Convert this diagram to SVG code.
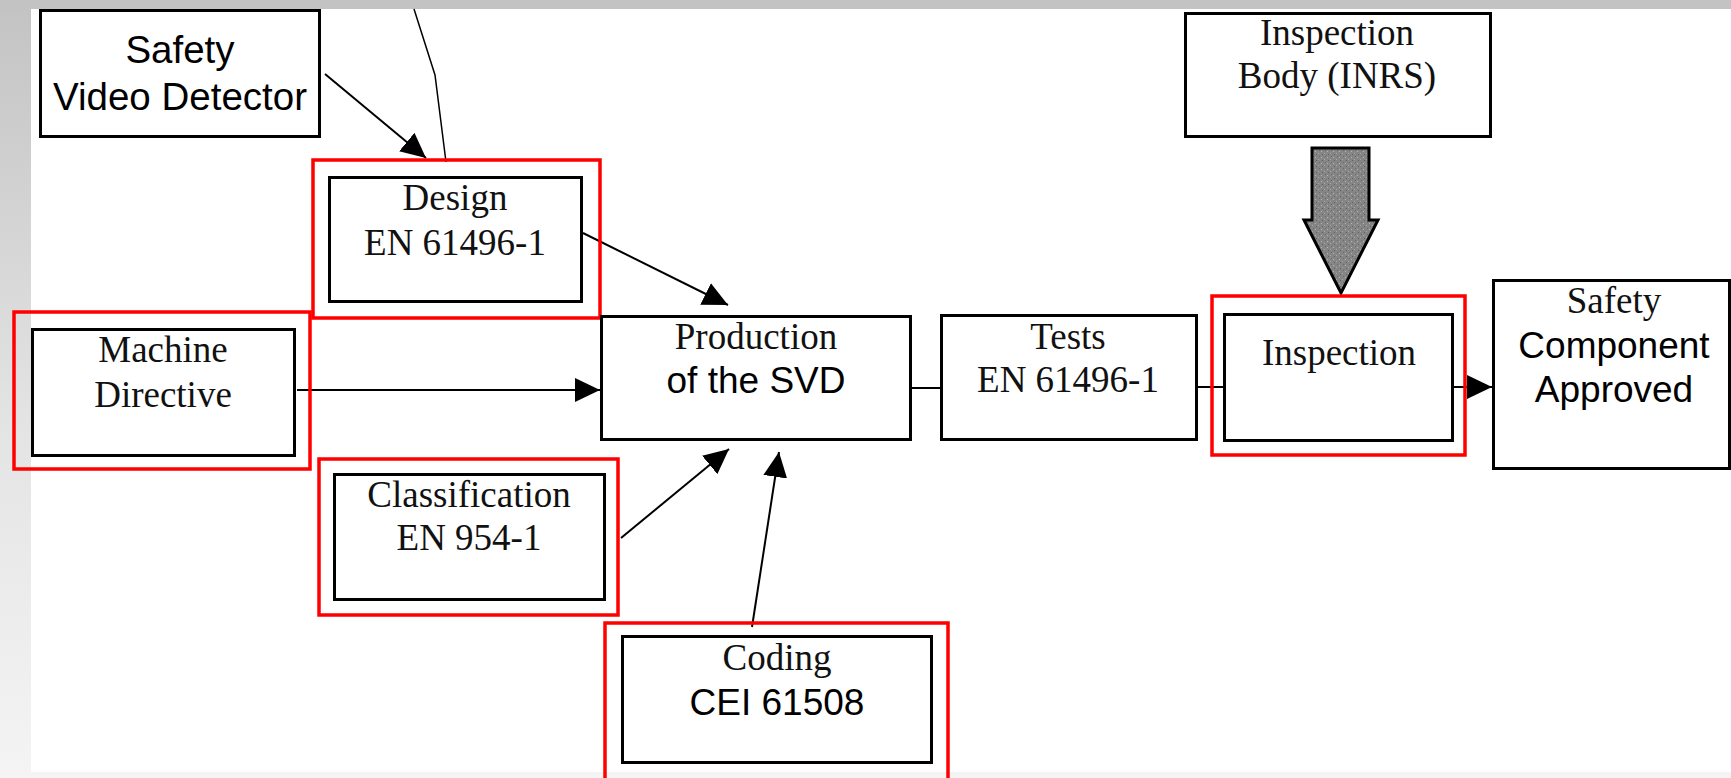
<svg xmlns="http://www.w3.org/2000/svg" width="1731" height="778" viewBox="0 0 1731 778">
  <defs>
    <linearGradient id="sideband" x1="0" y1="0" x2="0" y2="1">
      <stop offset="0" stop-color="#c3c3c3"/>
      <stop offset="0.55" stop-color="#e4e4e4"/>
      <stop offset="1" stop-color="#f4f4f4"/>
    </linearGradient>
    <!-- speckled grey fill for the block arrow -->
    <pattern id="stipple" patternUnits="userSpaceOnUse" width="6" height="6">
      <rect width="6" height="6" fill="#858585"/>
      <rect x="1" y="1" width="1" height="1" fill="#b5b5b5"/>
      <rect x="4" y="3" width="1" height="1" fill="#a8a8a8"/>
      <rect x="2" y="4" width="1" height="1" fill="#5e5e5e"/>
      <rect x="5" y="0" width="1" height="1" fill="#6a6a6a"/>
    </pattern>
    <marker id="head" markerUnits="userSpaceOnUse" markerWidth="26" markerHeight="26" refX="25" refY="12" orient="auto">
      <path d="M0,0 L25,12 L0,24 z" fill="#000"/>
    </marker>
    <style>
      .box { fill: #fff; stroke: #000; stroke-width: 3; }
      .hl { fill: none; stroke: #ff0000; stroke-width: 3.5; }
      .serif { font-family: "Liberation Serif", "Times New Roman", serif; font-size: 37px; fill: #111; text-anchor: middle; }
      .sans { font-family: "Liberation Sans", Arial, sans-serif; font-size: 37px; fill: #000; text-anchor: middle; }
      .big { font-size: 38.5px; }
      .link { fill: none; stroke: #000; stroke-width: 2; }
      .thin { fill: none; stroke: #000; stroke-width: 1.5; }
    </style>
  </defs>

  <!-- page background with grey frame bands -->
  <rect x="0" y="0" width="1731" height="778" fill="#fff"/>
  <rect x="0" y="772" width="1731" height="6" fill="#f4f4f4"/>
  <rect x="0" y="0" width="31" height="778" fill="url(#sideband)"/>
  <rect x="0" y="0" width="1731" height="9" fill="#c3c3c3"/>

  <!-- connectors -->
  <g id="connectors">
    <polyline class="thin" points="414,9 435,75 446,162"/>
    <line class="link" x1="325" y1="74" x2="426" y2="158" marker-end="url(#head)"/>
    <line class="link" x1="583" y1="233" x2="728" y2="305" marker-end="url(#head)"/>
    <line class="link" x1="297" y1="390" x2="600" y2="390" marker-end="url(#head)"/>
    <line class="link" x1="621" y1="538" x2="729" y2="449" marker-end="url(#head)"/>
    <line class="link" x1="752" y1="627" x2="779" y2="452" marker-end="url(#head)"/>
    <line class="link" x1="911" y1="388" x2="940" y2="388"/>
    <line class="link" x1="1197" y1="387" x2="1223" y2="387"/>
    <line class="link" x1="1453" y1="387" x2="1492" y2="387" marker-end="url(#head)"/>
    <polygon points="1312,148 1369,148 1369,220 1378,220 1341,293 1304,220 1312,220" fill="url(#stipple)" stroke="#000" stroke-width="3" stroke-linejoin="miter"/>
  </g>

  <g id="svd">
    <rect class="box" x="40.5" y="10.5" width="279" height="126"/>
    <text class="sans big" x="180" y="63">Safety</text>
    <text class="sans big" x="180" y="110">Video Detector</text>
  </g>

  <g id="design">
    <rect class="box" x="329.5" y="177.5" width="252" height="124"/>
    <text class="serif" x="455" y="210">Design</text>
    <text class="serif" x="455" y="255">EN 61496-1</text>
    <rect class="hl" x="313" y="160" width="287" height="158"/>
  </g>

  <g id="machine-directive">
    <rect class="box" x="32.5" y="329.5" width="262" height="126"/>
    <text class="serif" x="163" y="362">Machine</text>
    <text class="serif" x="163" y="407">Directive</text>
    <rect class="hl" x="14" y="312" width="296" height="157"/>
  </g>

  <g id="classification">
    <rect class="box" x="334.5" y="474.5" width="270" height="125"/>
    <text class="serif" x="469" y="507">Classification</text>
    <text class="serif" x="469" y="550">EN 954-1</text>
    <rect class="hl" x="319" y="459" width="299" height="156"/>
  </g>

  <g id="production">
    <rect class="box" x="601.5" y="316.5" width="309" height="123"/>
    <text class="serif" x="756" y="349">Production</text>
    <text class="sans" x="756" y="393">of the SVD</text>
  </g>

  <g id="coding">
    <rect class="box" x="622.5" y="636.5" width="309" height="126"/>
    <text class="serif" x="777" y="670">Coding</text>
    <text class="sans" x="777" y="715">CEI 61508</text>
    <rect class="hl" x="605" y="623" width="343" height="160"/>
  </g>

  <g id="tests">
    <rect class="box" x="941.5" y="315.5" width="255" height="124"/>
    <text class="serif" x="1068" y="349">Tests</text>
    <text class="serif" x="1068" y="392">EN 61496-1</text>
  </g>

  <g id="inspection-body">
    <rect class="box" x="1185.5" y="13.5" width="305" height="123"/>
    <text class="serif" x="1337" y="45">Inspection</text>
    <text class="serif" x="1337" y="88">Body (INRS)</text>
  </g>

  <g id="inspection">
    <rect class="box" x="1224.5" y="314.5" width="228" height="126"/>
    <text class="serif" x="1339" y="365">Inspection</text>
    <rect class="hl" x="1212" y="296" width="253" height="159"/>
  </g>

  <g id="approved">
    <rect class="box" x="1493.5" y="280.5" width="236" height="188"/>
    <text class="serif" x="1614" y="313">Safety</text>
    <text class="sans" x="1614" y="358">Component</text>
    <text class="sans" x="1614" y="402">Approved</text>
  </g>
</svg>
